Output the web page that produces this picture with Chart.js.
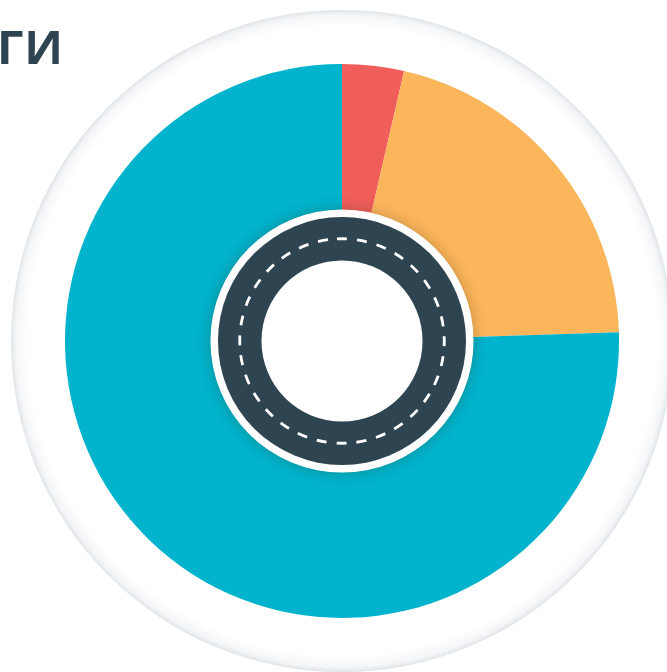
<!DOCTYPE html>
<html lang="ru">
<head>
<meta charset="utf-8">
<title>Дороги</title>
<script src="https://cdn.jsdelivr.net/npm/chart.js@4.4.1/dist/chart.umd.min.js"></script>
<style>
  html, body { margin: 0; padding: 0; background: #fff; }
  #wrap { position: relative; width: 667px; height: 672px; overflow: hidden; }
  #heading {
    position: absolute; right: 603px; top: 23px;
    font: 700 47px/1 "Open Sans", sans-serif;
    letter-spacing: 1px;
    color: #2e4450; white-space: nowrap;
  }
  canvas { position: absolute; left: 0; top: 0; }
</style>
</head>
<body>
<div id="wrap">
  <canvas id="roadChart" width="667" height="672"></canvas>
  <div id="heading">ДОРОГИ</div>
</div>
<script>
/* ------------------------------
   DATA
------------------------------ */
const categories = ["Плохие", "Удовлетворительные", "Хорошие"];
const shares = [3.6, 20.9, 75.5];
const sliceColors = ["#ef5e5b", "#fbb55b", "#01b3cc"];

/* ------------------------------
   DECOR: outer plate + road ring
------------------------------ */
const roadDecor = {
  id: "roadDecor",
  beforeDatasetsDraw(chart) {
    const arc = chart.getDatasetMeta(0).data[0];
    if (!arc) return;
    const { x, y, outerRadius } = arc;
    const ctx = chart.ctx;
    const rOut = outerRadius + 54;
    ctx.save();
    const g = ctx.createRadialGradient(x, y, rOut - 16, x, y, rOut);
    g.addColorStop(0, "rgba(222,228,232,0)");
    g.addColorStop(0.7, "rgba(222,228,232,0.35)");
    g.addColorStop(1, "rgba(212,219,224,0.75)");
    ctx.beginPath();
    ctx.arc(x, y, rOut, 0, Math.PI * 2);
    ctx.fillStyle = g;
    ctx.fill();
    ctx.restore();
  },
  afterDatasetsDraw(chart) {
    const arc = chart.getDatasetMeta(0).data[0];
    if (!arc) return;
    const { x, y, innerRadius } = arc;
    const ctx = chart.ctx;
    const rWhite = innerRadius + 0.5;
    const rRoad = innerRadius - 7;
    const rHole = innerRadius - 50.5;
    const rLine = (rRoad + rHole) / 2;

    ctx.save();
    // white rim with soft shadow
    ctx.shadowColor = "rgba(60,40,0,0.28)";
    ctx.shadowBlur = 14;
    ctx.beginPath();
    ctx.arc(x, y, rWhite, 0, Math.PI * 2);
    ctx.fillStyle = "#fff";
    ctx.fill();
    ctx.shadowColor = "transparent";

    // asphalt
    ctx.beginPath();
    ctx.arc(x, y, rRoad, 0, Math.PI * 2);
    ctx.fillStyle = "#2e4450";
    ctx.fill();

    // centre line
    const dashCount = 32;
    const period = (2 * Math.PI * rLine) / dashCount;
    const dash = period * 0.5;
    ctx.setLineDash([dash, period - dash]);
    ctx.lineWidth = 2.8;
    ctx.strokeStyle = "#fff";
    ctx.beginPath();
    const start = -Math.PI / 2 - (dash / 2) / rLine;
    ctx.arc(x, y, rLine, start, start + Math.PI * 2);
    ctx.stroke();
    ctx.setLineDash([]);

    // hole
    ctx.beginPath();
    ctx.arc(x, y, rHole, 0, Math.PI * 2);
    ctx.fillStyle = "#fff";
    ctx.fill();
    ctx.restore();
  }
};

/* ------------------------------
   CHART
------------------------------ */
new Chart(document.getElementById("roadChart"), {
  type: "doughnut",
  data: {
    labels: categories,
    datasets: [{
      data: shares,
      backgroundColor: sliceColors,
      borderWidth: 0
    }]
  },
  options: {
    responsive: false,
    animation: false,
    cutout: "47.3%",
    layout: { padding: { left: 65, right: 48, top: 64, bottom: 54 } },
    plugins: {
      legend: { display: false },
      tooltip: { enabled: false }
    }
  },
  plugins: [roadDecor]
});
</script>
</body>
</html>
